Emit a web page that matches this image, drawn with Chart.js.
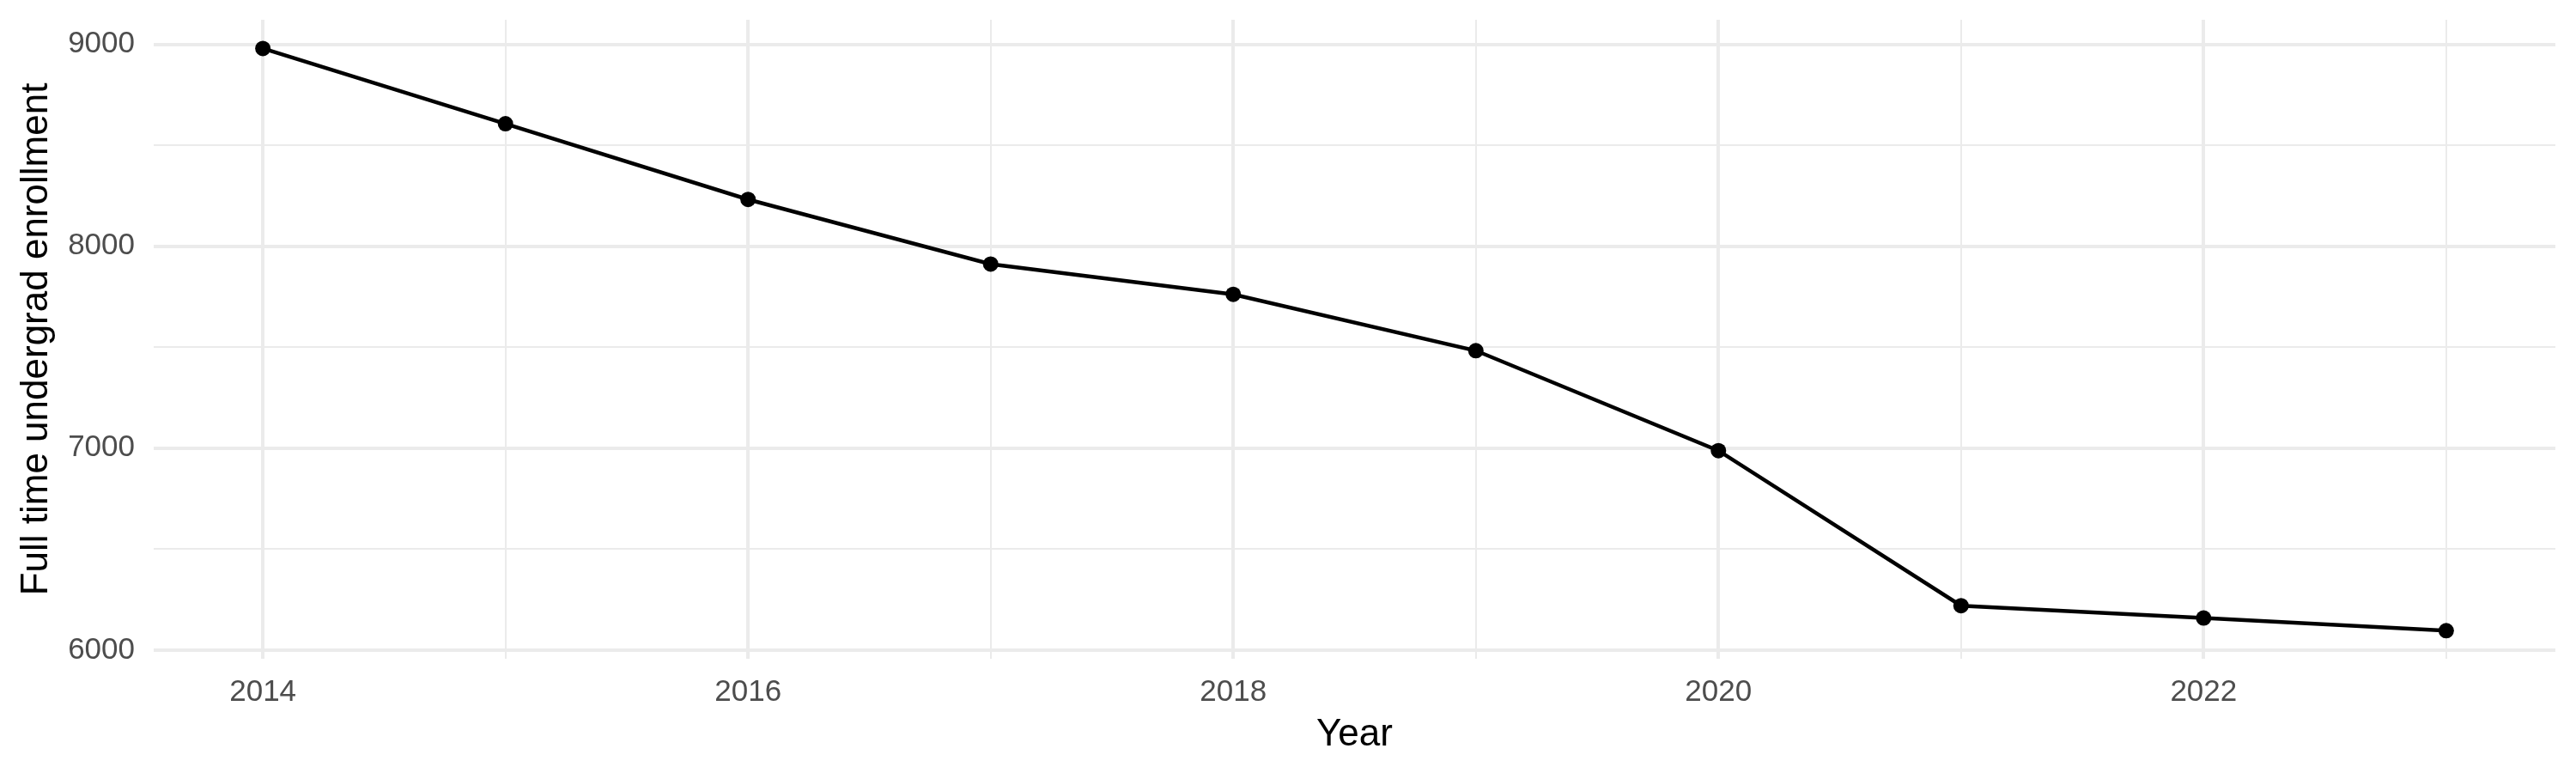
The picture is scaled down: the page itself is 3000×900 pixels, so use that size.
<!DOCTYPE html>
<html>
<head>
<meta charset="utf-8">
<script src="https://cdn.jsdelivr.net/npm/chart.js@4/dist/chart.umd.min.js"></script>
<style>
  html, body { margin: 0; padding: 0; background: #fff; }
  #wrap { width: 3000px; height: 900px; }
</style>
</head>
<body>
<div id="wrap"><canvas id="enrollChart" width="3000" height="900"></canvas></div>
<script>
// values
const years = [2014, 2015, 2016, 2017, 2018, 2019, 2020, 2021, 2022, 2023];
const enrollment = [8980, 8607, 8232, 7912, 7762, 7483, 6988, 6220, 6159, 6096];
const yTicks = [6000, 6500, 7000, 7500, 8000, 8500, 9000];
const xTicks = [2014, 2015, 2016, 2017, 2018, 2019, 2020, 2021, 2022, 2023];

const gridColor = '#EBEBEB';
const fontFamily = '"Liberation Sans", Arial, sans-serif';

const points = years.map((yr, i) => ({ x: yr, y: enrollment[i] }));

const ctx = document.getElementById('enrollChart').getContext('2d');
new Chart(ctx, {
  type: 'line',
  data: {
    datasets: [{
      data: points,
      borderColor: '#000',
      backgroundColor: '#000',
      borderWidth: 4.5,
      pointRadius: 9,
      pointHoverRadius: 9,
      pointBorderWidth: 0,
      tension: 0,
    }]
  },
  options: {
    responsive: false,
    animation: false,
    devicePixelRatio: 1,
    layout: { padding: { top: 23, right: 24, left: 0, bottom: 0 } },
    plugins: { legend: { display: false }, tooltip: { enabled: false } },
    scales: {
      x: {
        type: 'linear',
        min: 2013.55,
        max: 2023.45,
        afterBuildTicks: (scale) => {
          scale.ticks = xTicks.map(v => ({ value: v }));
        },
        afterFit: (scale) => {
          scale.height = 133;
          scale.paddingLeft = 0;
          scale.paddingRight = 0;
        },
        border: { display: false },
        grid: {
          color: gridColor,
          drawTicks: false,
          lineWidth: (c) => (c.tick && c.tick.value % 2 === 0 ? 4 : 2),
        },
        ticks: {
          padding: 18,
          color: '#4D4D4D',
          font: { family: fontFamily, size: 35 },
          maxRotation: 0,
          autoSkip: false,
          callback: (value) => (value % 2 === 0 ? String(value) : ''),
        },
        title: {
          display: true,
          text: 'Year',
          color: '#000',
          font: { family: fontFamily, size: 44 },
          padding: { top: 0, bottom: 18 },
        },
      },
      y: {
        min: 5957,
        max: 9122,
        afterBuildTicks: (scale) => {
          scale.ticks = yTicks.map(v => ({ value: v }));
        },
        // don't let the tick labels push the plot area down
        afterFit: (scale) => {
          scale.width = 179;
          scale.paddingTop = 0;
          scale.paddingBottom = 0;
        },
        border: { display: false },
        grid: {
          color: gridColor,
          drawTicks: false,
          lineWidth: (c) => (c.tick && c.tick.value % 1000 === 0 ? 4 : 2),
        },
        ticks: {
          padding: 22,
          color: '#4D4D4D',
          font: { family: fontFamily, size: 35 },
          autoSkip: false,
          callback: (value) => (value % 1000 === 0 ? String(value) : ''),
        },
        title: {
          display: true,
          text: 'Full time undergrad enrollment',
          color: '#000',
          font: { family: fontFamily, size: 44 },
          padding: { top: 16, bottom: 0 },
        },
      },
    },
  },
});
</script>
</body>
</html>
